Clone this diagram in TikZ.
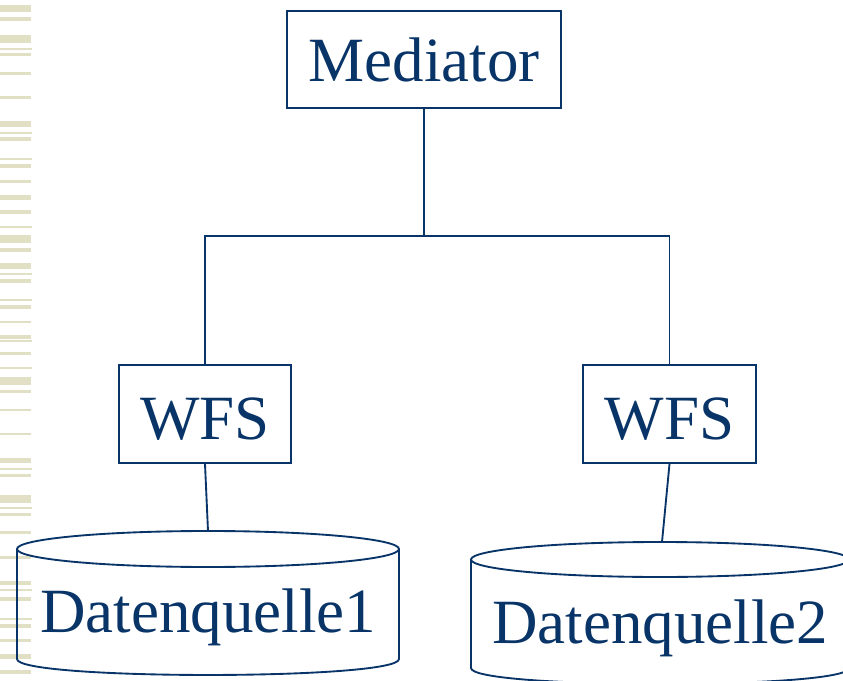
\documentclass[tikz,border=0pt]{standalone}
\usepackage{fontspec}
\setmainfont{Liberation Serif}
\definecolor{navy}{RGB}{8,52,104}
\definecolor{stripe}{RGB}{226,224,196}
\begin{document}
\begin{tikzpicture}[x=0.75pt,y=-0.75pt,
  lbl/.style={text=navy,font=\fontsize{47.25}{56}\selectfont,inner sep=0pt},
  box/.style={draw=navy,line width=1.4pt,text=navy,font=\fontsize{47.25}{56}\selectfont,inner sep=0pt},
  wire/.style={draw=navy,line width=1.4pt},
  db/.style={draw=navy,line width=1.4pt}]
\useasboundingbox (0,0) rectangle (843,681);
\clip (0,0) rectangle (843,681);
% decorative stripes
\foreach \a/\b in {5/12,17/21,35/43,53/56,72/75,96/99,121/127,137/141,164/168,180/183,195/200,210/214,235/243,248/252,263/269,279/283,305/309,321/323,335/339,352/355,377/385,390/393,409/411,433/435,458/463,474/477,495/503,513/516,531/534,556/559,581/585,597/601,624/628,639/642,654/659,670/674}
  \fill[stripe] (0,\a) rectangle (31,\b);
\foreach \a in {48,132,158,226,273,299,340,367,468,507,589,618}
  \fill[stripe] (0,\a) rectangle (32,\a+1.6);
% nodes
\node[box,minimum width=205.5pt,minimum height=72.75pt] (med) at (424,59.5) {};
\node[lbl,anchor=base] (medt) at (424,82) {Mediator};
\node[box,minimum width=129pt,minimum height=73.5pt] (w1) at (205,414) {};
\node[lbl,anchor=base] (w1t) at (205,439) {WFS};
\node[box,minimum width=129.75pt,minimum height=73.5pt] (w2) at (669.5,414) {};
\node[lbl,anchor=base] (w2t) at (669.5,439) {WFS};
% cylinders
\draw[db] (208,549) ellipse [x radius=191, y radius=18];
\draw[db] (17,549) -- (17,659) .. controls (17,680.3) and (399,680.3) .. (399,659) -- (399,549);
\draw[db] (660,559.5) ellipse [x radius=189, y radius=17.5];
\draw[db] (471,559.5) -- (471,668) .. controls (471,689.3) and (849,689.3) .. (849,668) -- (849,559.5);
\node[lbl,anchor=base] (d1) at (208,632) {Datenquelle1};
\node[lbl,anchor=base] (d2) at (660,643) {Datenquelle2};
\coordinate (d1top) at (208,531);
\coordinate (d2top) at (662,542);
\coordinate (split) at (424,236);
% connectors
\draw[wire] (med.south) -- (split);
\draw[wire] (w1.north) |- (split) -| (w2.north);
\draw[wire] (w1.south) -- (d1top);
\draw[wire] (w2.south) -- (d2top);
\end{tikzpicture}
\end{document}
